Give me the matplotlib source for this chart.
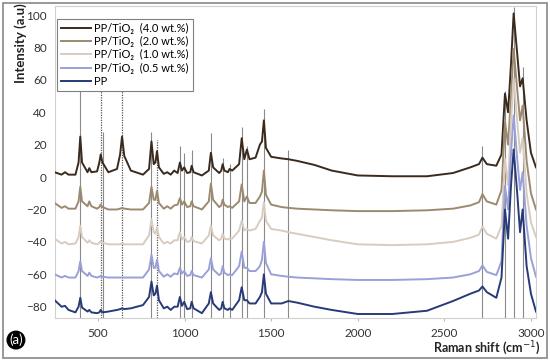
import matplotlib
matplotlib.use("Agg")
import matplotlib.pyplot as plt
from matplotlib.patches import Rectangle

plt.rcParams['font.family'] = ['Lato', 'DejaVu Sans']

# Raman shift (cm-1), shared by all spectra
shift = [250, 290, 310, 330, 370, 388, 398, 408, 440, 450, 462, 495, 508, 516, 526,
         560, 610, 628, 639, 652, 690, 760, 795, 809, 822, 832, 841, 852, 880, 900,
         920, 940, 960, 973, 985, 998, 1015, 1033, 1041, 1052, 1100, 1140, 1152, 1165,
         1200, 1212, 1220, 1230, 1250, 1260, 1275, 1315, 1330, 1345, 1360, 1375, 1410,
         1435, 1447, 1458, 1470, 1500, 1560, 1600, 1650, 1750, 1850, 2000, 2200, 2400,
         2550, 2650, 2700, 2720, 2745, 2800, 2830, 2850, 2868, 2885, 2900, 2920, 2937,
         2952, 2975, 3000, 3029]

tio2_40 = [3, 1.5, 3, 1.5, 1.5, 9, 25, 9, 3, 5.5, 3, 3.5, 9, 14, 9,
           3, 5, 14, 25, 13, 4, 1.5, 5, 22, 8, 9, 16, 6, 2, 3,
           1.5, 4, 2.5, 9, 4, 6, 2.5, 3, 7, 3, 1, 4, 15, 6,
           2.5, 4, 8, 4, 3, 5, 4, 8, 24, 11, 17, 11, 12,
           20, 22, 35, 18, 12.5, 11.5, 11, 10, 7.5, 4, 1, 0.5, 0.5,
           2.5, 6, 8, 12, 8, 7, 14, 51.5, 40, 70, 101, 77, 56,
           61, 35, 15, 6]

tio2_20 = [-16, -19, -18, -19.5, -19.5, -15, -6, -15, -18, -15, -18, -19.5, -18.5, -17, -18.5,
           -20, -20, -19.5, -19, -19.5, -20, -20, -16, -6, -14, -14, -8.5, -16, -19.5, -18,
           -19.5, -17.5, -17, -13, -17, -15, -18.5, -18, -15, -18, -20, -15, -4, -14,
           -18.5, -17.5, -14, -17, -18.5, -18, -19, -15, -4.5, -15, -12, -16, -16,
           -12, -9, 4, -11, -17, -18.5, -19, -19.5, -20, -20.5, -21, -21, -20.5,
           -19.5, -17.5, -15.5, -10.5, -15, -17, -8, 34, 20, 50, 79, 55, 35,
           44, 10, -10, -20]

tio2_10 = [-38, -41, -40, -41.5, -41, -37, -30, -37, -40.5, -39, -40.5, -41.5, -40.5, -39.5, -40.5,
           -41.5, -41.5, -41.5, -41, -41.5, -41.5, -41.5, -36, -26, -34, -35, -31, -37, -41, -40,
           -41, -39, -39, -34, -38.5, -37, -40, -39.5, -37, -39.5, -41, -36, -30, -36,
           -39, -38, -35, -38, -38.5, -38, -38, -33, -27, -33, -32, -33, -32,
           -27, -25, -15.5, -27, -32, -33, -34, -35, -37, -39, -41.5, -42, -41.5,
           -40, -37.5, -35.5, -30.5, -35, -38, -30, 11, -5, 35, 61, 35, 15,
           24, -10, -28, -37]

tio2_05 = [-60, -62, -61, -62, -62, -58, -52, -58, -61, -59, -61, -62, -61.5, -61, -61.5,
           -62, -62, -62, -62, -62, -62, -62, -57, -48, -56, -56, -51, -58, -61.5, -60,
           -61.5, -59.5, -60, -56, -59.5, -58, -61, -60.5, -58, -60.5, -62, -57, -50, -57,
           -60.5, -59.5, -55, -59, -60.5, -60, -60.5, -55, -46, -56, -56, -58, -58,
           -55, -51, -40, -53, -60, -61, -61.5, -62, -62.5, -63, -63.5, -63.5, -63,
           -62, -60, -58, -54.5, -58.5, -60.5, -52, -5.5, -20, 15, 38, 12, -8,
           3, -30, -50, -61.5]

pp = [-76, -80, -79.5, -82, -83.5, -80, -74.5, -80.5, -83, -82, -83.5, -84, -83.5, -82, -83.5,
      -83, -82, -81.5, -81, -81.5, -81, -79, -74, -64.5, -73, -72, -67, -76, -81, -80,
      -82, -80, -80, -74, -79.5, -77, -81.5, -81, -77, -81, -84, -78, -71, -78,
      -82, -81, -77, -81, -82, -81, -82, -76, -68, -76, -76, -78, -78,
      -74, -71, -60, -72, -78, -78, -76.5, -77.5, -80, -82, -84.5, -84.5, -82.5,
      -76.5, -72, -70, -67.5, -71, -74.5, -62, -20, -38, -5, 17, -9, -34,
      -20, -55, -72, -83]

labels = ['PP/TiO\u2082  (4.0 wt.%)', 'PP/TiO\u2082  (2.0 wt.%)',
          'PP/TiO\u2082  (1.0 wt.%)', 'PP/TiO\u2082  (0.5 wt.%)', 'PP']
colors = ['#3a2a1e', '#9c8a70', '#d8ccc0', '#9aa0d8', '#283a78']

# marker lines: position, top value
solid_pos = [398, 530, 809, 973, 998, 1041, 1152, 1220, 1260, 1330, 1360, 1458, 1600, 2720, 2850, 2900, 2952]
solid_top = [60, 28, 28, 19, 15, 17, 27, 12, 8, 31, 19, 42, 17, 19, 53, 105, 68]
dotted_pos = [516, 639, 841]
dotted_top = [60, 60, 23]

fig = plt.figure(figsize=(5.5, 3.61), dpi=100)
ax = fig.add_axes([0.1, 0.119, 0.8745, 0.864])

for x, t in zip(solid_pos, solid_top):
    ax.vlines(x, -87, t, colors='#8a8a8a', linewidth=0.8, zorder=1)
for x, t in zip(dotted_pos, dotted_top):
    ax.vlines(x, -87, t, colors='#555555', linewidth=0.9, linestyles=(0, (1, 1)), zorder=1)

series = [tio2_40, tio2_20, tio2_10, tio2_05, pp]
for ys, c, lab in zip(series, colors, labels):
    ax.plot(shift, ys, color=c, linewidth=1.4, label=lab, zorder=3)

ax.set_xlim(252, 3029)
ax.set_ylim(-87, 105.5)
ax.set_xticks([500, 1000, 1500, 2000, 2500, 3000])
ax.set_yticks(range(-80, 101, 20))
ax.tick_params(axis='y', length=0, pad=6, labelsize=8.5, labelcolor='#333333')
ax.tick_params(axis='x', length=2, color='#bbbbbb', pad=5, labelsize=8.5, labelcolor='#333333')
for s in ax.spines.values():
    s.set_color('#d0d0d0')
    s.set_linewidth(0.8)

leg = ax.legend(loc='upper left', bbox_to_anchor=(0.004, 0.96), borderaxespad=0,
                fontsize=8, handlelength=2.7, handletextpad=0.3, labelspacing=0.2,
                borderpad=0.37, fancybox=False, framealpha=1, edgecolor='#808080')
leg.get_frame().set_linewidth(0.8)
leg.set_zorder(5)

fig.text(0.038, 0.88, 'Intensity (a.u)', rotation=90, ha='center', va='center',
         fontsize=9.5, fontweight='bold', color='#222222')
fig.text(0.982, 0.035, 'Raman shift (cm$^{-1}$)', ha='right', va='center',
         fontsize=9, fontweight='bold', color='#222222')

fig.patches.append(Rectangle((0.006, 0.008), 0.988, 0.984, transform=fig.transFigure,
                             fill=False, edgecolor='#888888', linewidth=1.2))
fig.text(0.029, 0.058, '(a)', ha='center', va='center', fontsize=9.5, color='white',
         bbox=dict(boxstyle='circle,pad=0.15', facecolor='black', edgecolor='black'))

fig.savefig('out.png', dpi=100)
